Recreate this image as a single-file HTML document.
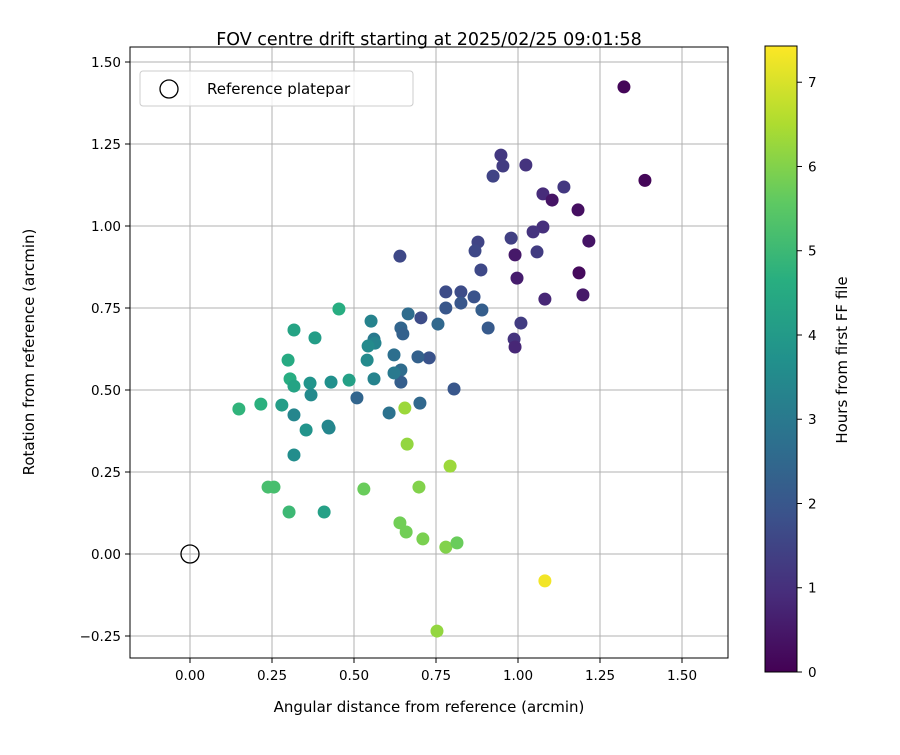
<!DOCTYPE html>
<html><head><meta charset="utf-8"><style>
body{margin:0;background:#fff;font-family:"Liberation Sans","DejaVu Sans",sans-serif;}
svg text{font-family:"DejaVu Sans","Liberation Sans",sans-serif;fill:#000;}
</style></head><body>
<svg id="chart" width="900" height="750" xmlns="http://www.w3.org/2000/svg">
<defs>
<linearGradient id="vir" x1="0" y1="1" x2="0" y2="0">
<stop offset="0" stop-color="#440154"/><stop offset="0.125" stop-color="#472d7b"/>
<stop offset="0.25" stop-color="#3b528b"/><stop offset="0.375" stop-color="#2c728e"/>
<stop offset="0.5" stop-color="#21918c"/><stop offset="0.625" stop-color="#28ae80"/>
<stop offset="0.75" stop-color="#5ec962"/><stop offset="0.875" stop-color="#addc30"/>
<stop offset="1" stop-color="#fde725"/>
</linearGradient>
</defs>
<g id="grid"></g>
<g id="points"></g>
<rect x="130" y="47" width="598" height="611" fill="none" stroke="#000" stroke-width="1"/>
<g id="axes"></g>
<circle cx="190" cy="554" r="9" fill="none" stroke="#000" stroke-width="1.3"/>
<g>
<rect x="140" y="71" width="273" height="35" rx="3" fill="#fff" fill-opacity="0.8" stroke="#ccc"/>
<circle cx="169" cy="89" r="9" fill="none" stroke="#000" stroke-width="1.3"/>
<text x="207" y="94" font-size="15">Reference platepar</text>
</g>
<text x="429" y="45" font-size="17.5" text-anchor="middle">FOV centre drift starting at 2025/02/25 09:01:58</text>
<text x="429" y="712" font-size="15" text-anchor="middle">Angular distance from reference (arcmin)</text>
<text transform="translate(34,352) rotate(-90)" font-size="15" text-anchor="middle">Rotation from reference (arcmin)</text>
<g>
<rect x="765" y="46" width="32" height="626" fill="url(#vir)" stroke="#000" stroke-width="1"/>
<g id="cbticks"></g>
<text transform="translate(847,360) rotate(-90)" font-size="15" text-anchor="middle">Hours from first FF file</text>
</g>
</svg>
<script>
const xTicks=[0,0.25,0.5,0.75,1.0,1.25,1.5];
const yTicks=[-0.25,0,0.25,0.5,0.75,1.0,1.25,1.5];
const cTicks=[0,1,2,3,4,5,6,7];
const xs=[1.323,1.387,0.948,0.954,1.024,0.924,1.140,1.076,1.104,1.076,1.183,1.046,0.979,1.216,0.878,0.869,0.991,1.058,0.640,0.887,1.186,0.997,1.082,1.198,0.780,0.826,0.866,0.780,0.826,0.890,0.665,0.704,0.756,0.643,0.649,1.009,0.909,0.988,0.991,0.729,0.695,0.561,0.552,0.564,0.543,0.540,0.622,0.643,0.643,0.561,0.622,0.805,0.509,0.607,0.701,0.655,0.662,0.793,0.454,0.317,0.381,0.299,0.305,0.317,0.366,0.369,0.430,0.485,0.421,0.424,0.354,0.317,0.280,0.216,0.149,0.317,0.409,0.302,0.238,0.256,0.530,0.698,0.640,0.659,0.710,0.780,0.814,0.753,1.082];
const ys=[1.424,1.139,1.216,1.183,1.186,1.152,1.119,1.098,1.079,0.997,1.049,0.982,0.963,0.954,0.951,0.924,0.912,0.921,0.908,0.866,0.857,0.841,0.777,0.790,0.799,0.799,0.784,0.750,0.765,0.744,0.732,0.720,0.701,0.689,0.671,0.704,0.689,0.655,0.631,0.598,0.601,0.655,0.710,0.643,0.634,0.591,0.607,0.561,0.524,0.534,0.552,0.503,0.476,0.430,0.460,0.445,0.335,0.268,0.747,0.683,0.659,0.591,0.534,0.512,0.521,0.485,0.524,0.530,0.390,0.384,0.378,0.424,0.454,0.457,0.442,0.302,0.128,0.128,0.204,0.204,0.198,0.204,0.095,0.067,0.046,0.021,0.034,-0.235,-0.082];
const hours=[0.1,0.1,1.2,1.3,1.1,1.5,1.2,0.9,0.4,1.0,0.3,1.1,1.4,0.4,1.5,1.6,0.5,1.3,1.6,1.6,0.2,0.6,0.8,0.5,1.7,1.7,1.9,2.0,2.0,2.2,2.6,1.7,2.5,2.4,2.3,1.3,2.1,1.1,0.8,1.9,2.3,3.0,3.3,3.3,3.5,3.5,2.7,2.6,2.2,3.3,3.0,2.0,2.4,2.8,2.5,6.3,6.2,6.3,4.6,4.3,4.1,4.5,4.6,4.3,3.8,3.5,3.7,4.2,3.4,3.4,3.8,3.4,4.1,4.7,4.8,3.6,4.2,5.0,5.2,5.2,5.7,6.0,5.8,5.8,5.9,6.0,5.7,6.2,7.3];
const X=v=>190+v*328, Y=v=>554-v*328, C=v=>672-v*(626/7.43);
const vir=[[68,1,84],[71,45,123],[59,82,139],[44,114,142],[33,145,140],[40,174,128],[94,201,98],[173,220,48],[253,231,37]];
function col(h){let t=Math.max(0,Math.min(1,h/7.43))*8,i=Math.min(7,Math.floor(t)),f=t-i;
return 'rgb('+vir[i].map((c,k)=>Math.round(c+(vir[i+1][k]-c)*f)).join(',')+')';}
const NS='http://www.w3.org/2000/svg';
function mk(t,a,p){const e=document.createElementNS(NS,t);for(const k in a)e.setAttribute(k,a[k]);p.appendChild(e);return e;}
const grid=document.getElementById('grid'),axes=document.getElementById('axes'),pts=document.getElementById('points'),cb=document.getElementById('cbticks');
xTicks.forEach(v=>{const x=X(v);
const g=mk('line',{x1:x,x2:x,y1:47,y2:658,stroke:'#b0b0b0','stroke-width':1},grid);


mk('line',{x1:x,x2:x,y1:658,y2:663,stroke:'#000'},axes);
const t=mk('text',{x:x,y:680,'font-size':13.5,'text-anchor':'middle'},axes);t.textContent=v.toFixed(2);

});
yTicks.forEach(v=>{const y=Y(v);
const g=mk('line',{x1:130,x2:728,y1:y,y2:y,stroke:'#b0b0b0','stroke-width':1},grid);


mk('line',{x1:125,x2:130,y1:y,y2:y,stroke:'#000'},axes);
const t=mk('text',{x:121,y:y+5,'font-size':13.5,'text-anchor':'end'},axes);t.textContent=(v<0?'\u2212'+(-v).toFixed(2):v.toFixed(2));

});
xs.forEach((v,i)=>{const c=mk('circle',{cx:X(v),cy:Y(ys[i]),r:6.5,fill:col(hours[i])},pts);

});
cTicks.forEach(v=>{const y=C(v);
mk('line',{x1:797,x2:802,y1:y,y2:y,stroke:'#000'},cb);
const t=mk('text',{x:808,y:y+5,'font-size':13.5},cb);t.textContent=v;

});
</script>
</body></html>
